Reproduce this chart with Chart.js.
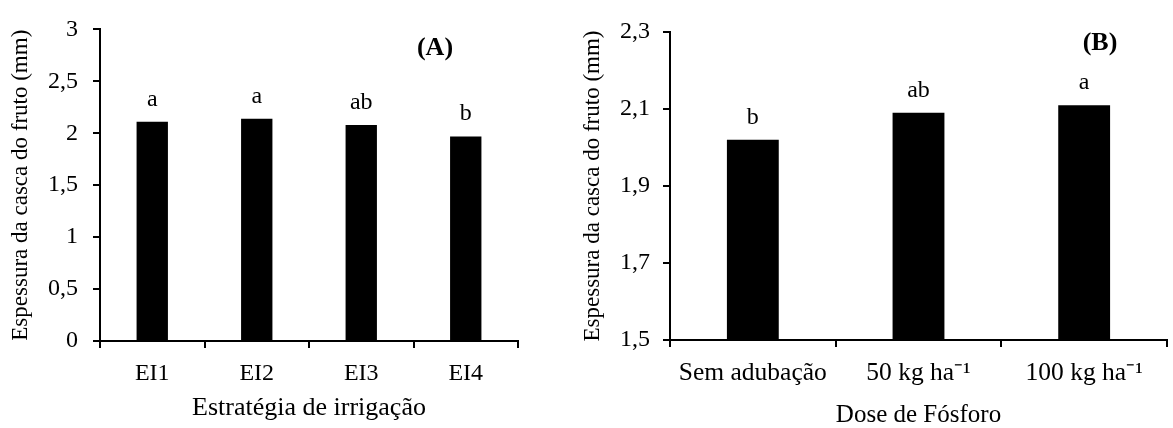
<!DOCTYPE html>
<html lang="pt">
<head>
<meta charset="UTF-8">
<title>Espessura da casca do fruto</title>
<script src="https://cdn.jsdelivr.net/npm/chart.js"></script>
<style>
  body { margin: 0; background: #fff; }
  .painel { position: absolute; top: 0; height: 428px; }
  #painelA { left: 0; width: 560px; }
  #painelB { left: 560px; width: 613px; }
</style>
</head>
<body>
<div class="painel" id="painelA"><canvas id="graficoA"></canvas></div>
<div class="painel" id="painelB"><canvas id="graficoB"></canvas></div>
<script>
// (A) estratégia de irrigação
const categoriasA = ['EI1', 'EI2', 'EI3', 'EI4'];
const valoresA = [2.11, 2.14, 2.08, 1.97];
const letrasA = ['a', 'a', 'ab', 'b'];
const ticksA = [0, 0.5, 1, 1.5, 2, 2.5, 3];

// (B) dose de fósforo
const categoriasB = ['Sem adubação', '50 kg ha⁻¹', '100 kg ha⁻¹'];
const valoresB = [2.02, 2.09, 2.11];
const letrasB = ['b', 'ab', 'a'];
const ticksB = [1.5, 1.7, 1.9, 2.1, 2.3];

const fonte = "'Liberation Serif', 'Times New Roman', serif";
Chart.defaults.font.family = fonte;
Chart.defaults.color = '#000';

// numeros com virgula, como no original
const formatar = v => Number.isInteger(v) ? String(v) : v.toFixed(1).replace('.', ',');

// letras (teste de medias) acima das barras e rotulo do painel
function pluginLetras(letras, painel, px, py) {
    return {
        id: 'letras',
        afterDatasetsDraw(chart) {
            const ctx = chart.ctx;
            ctx.save();
            ctx.fillStyle = '#000';
            ctx.textAlign = 'center';
            ctx.textBaseline = 'alphabetic';
            ctx.font = '24px ' + fonte;
            chart.getDatasetMeta(0).data.forEach((bar, i) => {
                ctx.fillText(letras[i], bar.x, bar.y - 16);
            });
            ctx.font = 'bold 26px ' + fonte;
            ctx.fillText(painel, px, py);
            ctx.restore();
        }
    };
}

function criarGrafico(id, c) {
    return new Chart(document.getElementById(id), {
        type: 'bar',
        data: {
            labels: c.categorias,
            datasets: [{
                data: c.valores,
                backgroundColor: '#000',
                borderWidth: 0,
                barPercentage: c.barra,
                categoryPercentage: 1
            }]
        },
        options: {
            responsive: true,
            maintainAspectRatio: false,
            animation: false,
            layout: { padding: { top: c.topo, right: c.direita, bottom: 0, left: 0 } },
            plugins: { legend: { display: false }, tooltip: { enabled: false } },
            scales: {
                x: {
                    grid: { display: true, drawOnChartArea: false, tickLength: 7, color: '#000', lineWidth: 2, offset: true },
                    border: { display: true, color: '#000', width: 2 },
                    ticks: { font: { size: c.fonteTicksX }, padding: 11, maxRotation: 0, autoSkip: false },
                    title: { display: true, text: c.tituloX, font: { size: c.fonteTituloX, lineHeight: 1 }, padding: { top: 0, bottom: c.padTituloX } },
                    afterFit: s => { s.height = c.alturaX; }
                },
                y: {
                    min: c.ticks[0],
                    max: c.ticks[c.ticks.length - 1],
                    afterBuildTicks: s => { s.ticks = c.ticks.map(v => ({ value: v })); },
                    grid: { drawOnChartArea: false, tickLength: 7, color: '#000', lineWidth: 2 },
                    border: { color: '#000', width: 2 },
                    ticks: { font: { size: 24 }, padding: c.padTicksY, callback: v => formatar(v) },
                    title: { display: true, text: 'Espessura da casca do fruto (mm)', font: { size: 23, lineHeight: 1.2 }, padding: { top: c.padTituloY, bottom: 0 } },
                    afterFit: s => { s.width = c.larguraY; }
                }
            }
        },
        plugins: [pluginLetras(c.letras, c.painel, c.painelX, c.painelY)]
    });
}

criarGrafico('graficoA', {
    categorias: categoriasA, valores: valoresA, letras: letrasA, ticks: ticksA,
    barra: 0.30, topo: 23, direita: 42, alturaX: 87, larguraY: 100,
    fonteTicksX: 24, fonteTituloX: 26,
    padTituloX: 7, padTituloY: 7, padTicksY: 15,
    tituloX: 'Estratégia de irrigação', painel: '(A)', painelX: 435, painelY: 55
});

criarGrafico('graficoB', {
    categorias: categoriasB, valores: valoresB, letras: letrasB, ticks: ticksB,
    barra: 0.313, topo: 32, direita: 6, alturaX: 88, larguraY: 110,
    fonteTicksX: 25.5, fonteTituloX: 25,
    padTituloX: 0, padTituloY: 19, padTicksY: 13,
    tituloX: 'Dose de Fósforo', painel: '(B)', painelX: 540, painelY: 50
});
</script>
</body>
</html>
